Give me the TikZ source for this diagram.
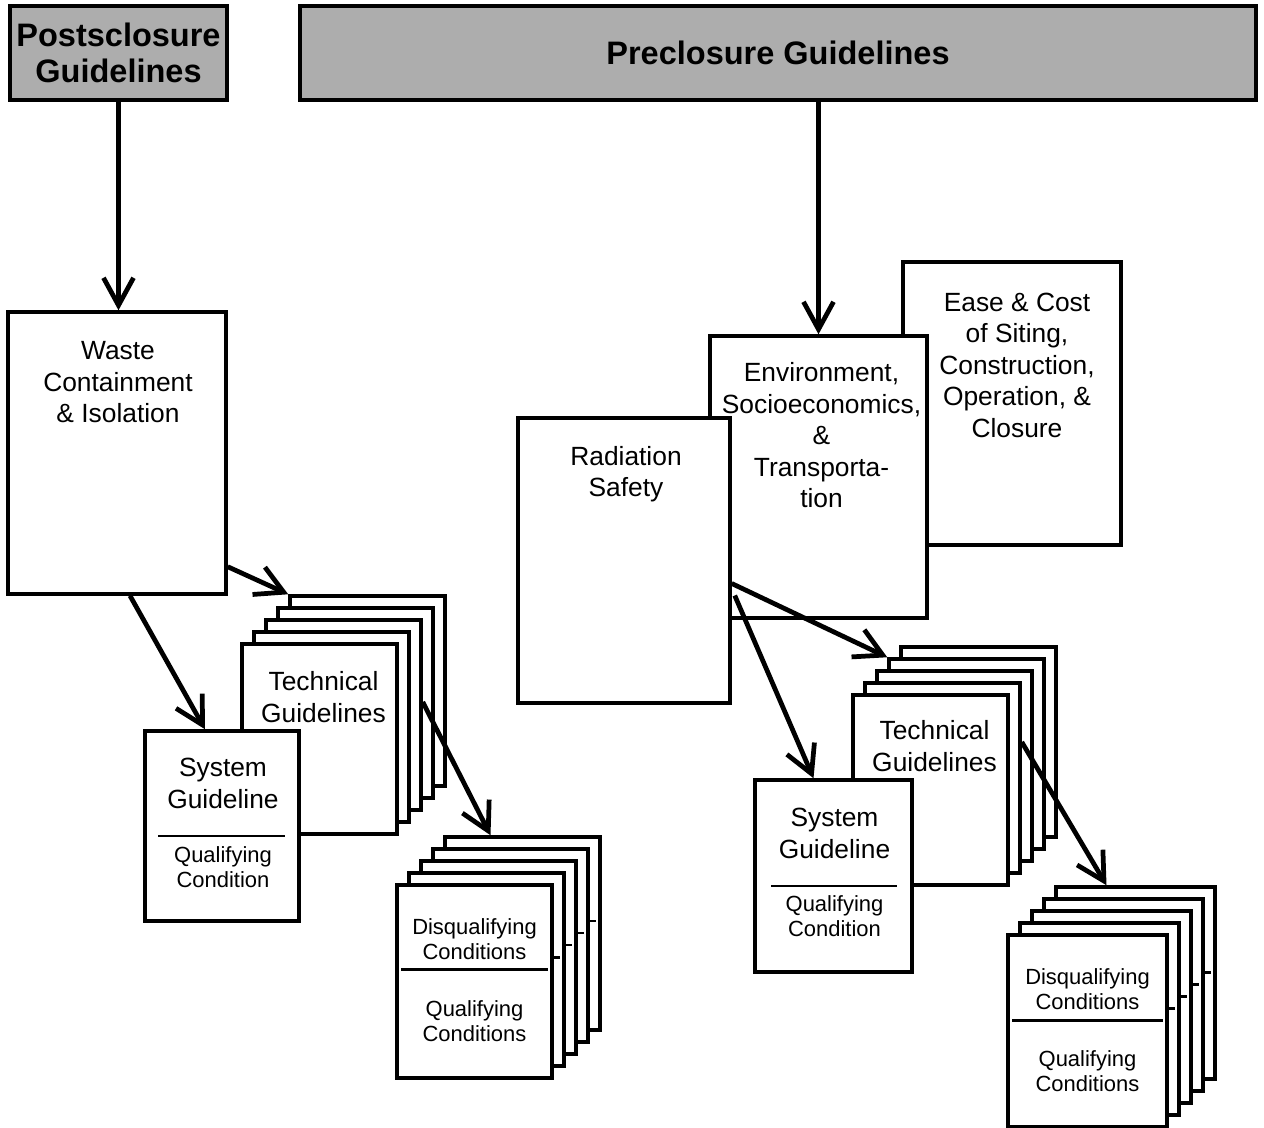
\documentclass[tikz,border=0pt]{standalone}
\usepackage{fontspec}
\setmainfont{Liberation Sans}
\usetikzlibrary{arrows.meta,calc}

\tikzset{
 pg/.style={draw,line width=2pt,fill=white,inner sep=0pt},
 hdr/.style={draw,line width=2pt,fill=black!32,inner sep=0pt,align=center,font=\bfseries\fontsize{18.5}{20.5}\selectfont},
 lbl/.style={align=center,font=\fontsize{15}{18}\selectfont,inner sep=0pt},
 sml/.style={align=center,font=\fontsize{12.5}{14.6}\selectfont,inner sep=0pt},
 arr/.style={line width=2.7pt,-{Straight Barb[length=0.55cm,width=0.6cm]}},
 divline/.style={line width=1.4pt}
}

\begin{document}
\begin{tikzpicture}[x=0.02cm,y=-0.02cm]
 \useasboundingbox (0,0) rectangle (1264,1128);
 % headers
 \node[hdr,minimum width=4.34cm,minimum height=1.88cm] (post) at (118.5,53) {Postsclosure\\Guidelines};
 \node[hdr,minimum width=19.12cm,minimum height=1.88cm] (pre) at (778,53) {Preclosure Guidelines};
 % preclosure concerns
 \node[pg,minimum width=4.36cm,minimum height=5.66cm] (ease) at (1012,403.5) {};
 \node[lbl] (easet) at ($(ease.north)+(5,105)$) {Ease \& Cost\\of Siting,\\Construction,\\Operation, \&\\Closure};
 \node[pg,minimum width=4.34cm,minimum height=5.64cm] (env) at (818.5,477) {};
 \node[lbl] (envt) at ($(env.north)+(3,101)$) {Environment,\\Socioeconomics,\\\&\\Transporta-\\tion};
 \node[pg,minimum width=4.24cm,minimum height=5.7cm] (rad) at (624,560.5) {};
 \node[lbl] (radt) at ($(rad.north)+(2,58)$) {Radiation\\Safety};
 % postclosure
 \node[pg,minimum width=4.36cm,minimum height=5.64cm] (waste) at (117,453) {};
 \node[lbl] (wastet) at ($(waste.north)+(1,72)$) {Waste\\Containment\\\& Isolation};
 \draw[arr] (post.south) -- (post.south |- waste.north);
 \draw[arr] (pre.south -| env.north) -- (env.north);

 % left stacks
 \foreach \k in {4,3,2,1,0}
  \node[pg,minimum width=3.1cm,minimum height=3.8cm] (techL\k) at (319.5+12*\k,739-12*\k) {};
 \node[lbl] (techLt) at ($(techL0.north)+(4,55)$) {Technical\\Guidelines};
 \node[pg,minimum width=3.08cm,minimum height=3.8cm] (sysL) at (222,826) {};
 \node[lbl] (sysLt) at ($(sysL.north)+(1,54)$) {System\\Guideline};
 \draw[divline] ($(sysL.north west)+(15,107)$) -- ($(sysL.north east)+(-16,107)$);
 \node[sml] (sysLq) at ($(sysL.north)+(1,138)$) {Qualifying\\Condition};
 \foreach \k in {4,3,2,1,0}{
  \node[pg,minimum width=3.1cm,minimum height=3.86cm] (disqL\k) at (474.5+12*\k,981.5-12*\k) {};
  \draw[divline] ($(disqL\k.north west)+(6,86)$) -- ($(disqL\k.north east)+(-6,86)$);
 }
 \node[sml] (disqLd) at ($(disqL0.north)+(0,56)$) {Disqualifying\\Conditions};
 \node[sml] (disqLq) at ($(disqL0.north)+(0,138)$) {Qualifying\\Conditions};
 \draw[arr] ($(waste.south east)+(0,-29)$) -- (techL4.north west);
 \draw[arr] ($(waste.south)+(13,0)$) -- ($(sysL.north)+(-17,0)$);
 \draw[arr] ($(techL2.east)+(0,-13)$) -- ($(disqL4.north)+(-32,0)$);

 % right stacks
 \foreach \k in {4,3,2,1,0}
  \node[pg,minimum width=3.1cm,minimum height=3.8cm] (techR\k) at (930.5+12*\k,790-12*\k) {};
 \node[lbl] (techRt) at ($(techR0.north)+(4,53)$) {Technical\\Guidelines};
 \node[pg,minimum width=3.14cm,minimum height=3.84cm] (sysR) at (833.5,876) {};
 \node[lbl] (sysRt) at ($(sysR.north)+(1,55)$) {System\\Guideline};
 \draw[divline] ($(sysR.north west)+(18,108)$) -- ($(sysR.north east)+(-17,108)$);
 \node[sml] (sysRq) at ($(sysR.north)+(1,138)$) {Qualifying\\Condition};
 \foreach \k in {4,3,2,1,0}{
  \node[pg,minimum width=3.18cm,minimum height=3.84cm] (disqR\k) at (1087.5+12*\k,1031-12*\k) {};
  \draw[divline] ($(disqR\k.north west)+(6,87)$) -- ($(disqR\k.north east)+(-6,87)$);
 }
 \node[sml] (disqRd) at ($(disqR0.north)+(0,56)$) {Disqualifying\\Conditions};
 \node[sml] (disqRq) at ($(disqR0.north)+(0,138)$) {Qualifying\\Conditions};
 \draw[arr] ($(rad.east)+(0,23)$) -- (techR3.north west);
 \draw[arr] ($(rad.east)+(3,35)$) -- ($(sysR.north)+(-20,0)$);
 \draw[arr] ($(techR1.east)+(0,-36)$) -- ($(disqR4.north)+(-29,0)$);
\end{tikzpicture}
\end{document}
